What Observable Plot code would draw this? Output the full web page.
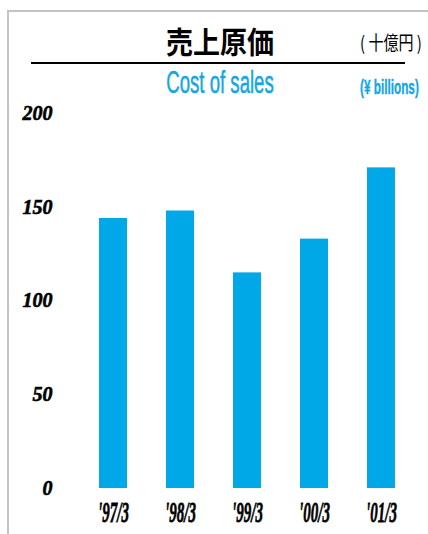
<!DOCTYPE html>
<html>
<head>
<meta charset="utf-8">
<script src="https://cdn.jsdelivr.net/npm/d3@7"></script>
<script src="https://cdn.jsdelivr.net/npm/@observablehq/plot@0.6"></script>
<style>
  html, body { margin: 0; padding: 0; background: #fff; }
  body { width: 428px; height: 534px; position: relative; overflow: hidden; }
  #frame { position: absolute; left: 7px; top: 10px; right: -5px; bottom: -5px; border-left: 2px solid #c4c4c4; border-top: 2px solid #c4c4c4; }
  .t { position: absolute; white-space: nowrap; line-height: 1; }
  #jp { left: 120px; width: 200px; text-align: center; top: 25px; font-family: "Noto Sans CJK JP", sans-serif; font-weight: 700; font-size: 30px; color: #000; transform: scaleX(0.9); }
  #jpunit { left: 360px; top: 32px; font-family: "Noto Sans CJK JP", sans-serif; font-weight: 400; font-size: 19px; color: #000; transform: scaleX(0.79); transform-origin: left center; }
  #rule { position: absolute; left: 31px; top: 62px; width: 374px; height: 1.5px; background: #000; }
  #en { left: 120px; width: 200px; text-align: center; top: 67px; font-family: "Liberation Sans", sans-serif; font-size: 31px; color: #12a6e4; transform: scaleX(0.6); -webkit-text-stroke: 0.5px #12a6e4; }
  #enunit { left: 360px; top: 76px; font-family: "Liberation Sans", sans-serif; font-weight: 700; font-size: 21px; color: #12a6e4; transform: scaleX(0.56); transform-origin: left center; -webkit-text-stroke: 0.4px #12a6e4; }
  #chart { position: absolute; left: 0; top: 100px; }
</style>
</head>
<body>
<div id="frame"></div>
<div class="t" id="jp">売上原価</div>
<div class="t" id="jpunit">( 十億円 )</div>
<div id="rule"></div>
<div class="t" id="en">Cost of sales</div>
<div class="t" id="enunit">(¥ billions)</div>
<div id="chart"></div>
<script>
const years = ["'97/3", "'98/3", "'99/3", "'00/3", "'01/3"];
const costOfSales = [144, 148, 115, 133, 171];
const yTicks = [0, 50, 100, 150, 200];

const data = years.map((year, i) => ({year, value: costOfSales[i]}));

const chart = Plot.plot({
  width: 428,
  height: 434,
  marginTop: 13,
  marginBottom: 46,
  marginLeft: 79,
  marginRight: 13,
  style: {
    fontFamily: "'Liberation Serif', serif",
    fontWeight: "bold",
    fontStyle: "italic",
    fontSize: "19px",
    color: "#000",
    background: "transparent",
    overflow: "visible"
  },
  x: {domain: years, paddingInner: 0.584, paddingOuter: 0.292, label: null, tickSize: 0, tickPadding: 12},
  y: {domain: [0, 200], ticks: yTicks, label: null, tickSize: 0, tickPadding: 27},
  marks: [
    Plot.barY(data, {x: "year", y: "value", fill: "#00a8e8"})
  ]
});
document.getElementById("chart").appendChild(chart);

chart.querySelectorAll('g[aria-label="x-axis tick label"] text').forEach(t => {
  t.setAttribute("font-size", "30");
  t.setAttribute("stroke", "#000");
  t.setAttribute("stroke-width", "0.8");
  const tr = t.getAttribute("transform");
  if (tr) t.setAttribute("transform", tr + " scale(0.5,1)");
});
chart.querySelectorAll('g[aria-label="y-axis tick label"] text').forEach(t => {
  t.setAttribute("font-size", "20");
  t.setAttribute("stroke", "#000");
  t.setAttribute("stroke-width", "0.6");
});
</script>
</body>
</html>
